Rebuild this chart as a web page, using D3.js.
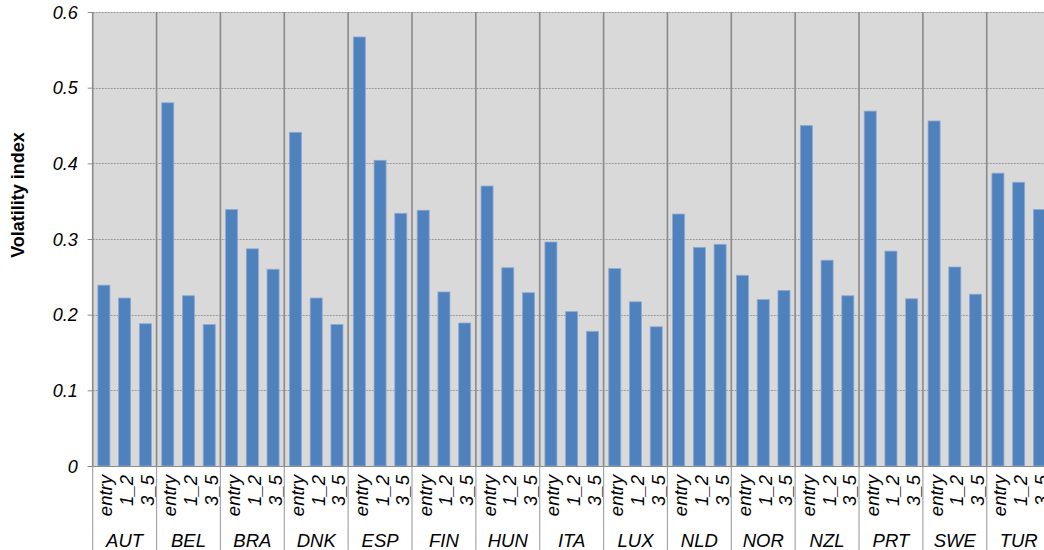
<!DOCTYPE html>
<html>
  <head>
    <meta charset="utf-8" />
    <title>Volatility index by country and cohort</title>
    <style>
      body {
        margin: 0;
        background: #fff;
      }
      text {
        font-family: "Liberation Sans", Arial, sans-serif;
        fill: #000;
      }
      .tick-label {
        font-style: italic;
        font-size: 18px;
      }
      .cohort-label,
      .country-label {
        font-style: italic;
        font-size: 18.5px;
      }
      .y-title {
        font-weight: bold;
        font-size: 18px;
      }
      .grid line {
        stroke: #9a9a9a;
        stroke-dasharray: 2 1;
      }
    </style>
  </head>
  <body>
    <svg id="chart"></svg>

    <script src="https://cdn.jsdelivr.net/npm/d3@7"></script>
    <script>
      const countries = ["AUT", "BEL", "BRA", "DNK", "ESP", "FIN", "HUN", "ITA", "LUX", "NLD", "NOR", "NZL", "PRT", "SWE", "TUR"];
      const cohorts = ["entry", "1_2", "3_5"];
      const entryValues = [0.239, 0.480, 0.339, 0.441, 0.567, 0.338, 0.370, 0.296, 0.261, 0.333, 0.252, 0.450, 0.469, 0.456, 0.387];
      const y12Values = [0.222, 0.225, 0.287, 0.222, 0.404, 0.230, 0.262, 0.204, 0.217, 0.289, 0.220, 0.272, 0.284, 0.263, 0.375];
      const y35Values = [0.188, 0.187, 0.260, 0.187, 0.334, 0.189, 0.229, 0.178, 0.184, 0.293, 0.232, 0.225, 0.221, 0.227, 0.339];
      const yTicks = [0, 0.1, 0.2, 0.3, 0.4, 0.5, 0.6];
      const yTitle = "Volatility index";

      const seriesValues = { entry: entryValues, "1_2": y12Values, "3_5": y35Values };

      const width = 1044;
      const height = 550;
      const plot = { left: 92.7, top: 12, bottom: 466, groupWidth: 63.86 };

      const svg = d3.select("#chart").attr("width", width).attr("height", height);

      const x0 = d3
        .scaleBand()
        .domain(countries)
        .range([plot.left, plot.left + plot.groupWidth * countries.length]);

      const x1 = d3
        .scaleBand()
        .domain(cohorts)
        .range([0, x0.bandwidth()])
        .paddingInner(0.42)
        .paddingOuter(0.25);

      const y = d3.scaleLinear().domain([0, 0.6]).range([plot.bottom, plot.top]);

      // grey plot background
      svg
        .append("rect")
        .attr("x", plot.left)
        .attr("y", plot.top)
        .attr("width", x0.range()[1] - plot.left)
        .attr("height", plot.bottom - plot.top)
        .attr("fill", "#d9d9d9");

      // dotted horizontal gridlines
      svg
        .append("g")
        .attr("class", "grid")
        .selectAll("line")
        .data(yTicks.filter((d) => d > 0))
        .join("line")
        .attr("x1", plot.left)
        .attr("x2", x0.range()[1])
        .attr("y1", (d) => Math.round(y(d)) + 0.5)
        .attr("y2", (d) => Math.round(y(d)) + 0.5);

      // y axis
      const yAxis = svg
        .append("g")
        .attr("transform", `translate(${plot.left},0)`)
        .call(d3.axisLeft(y).tickValues(yTicks).tickSize(5).tickPadding(10).tickFormat((d) => (d === 0 ? "0" : d3.format(".1f")(d))));
      yAxis.select(".domain").remove();
      yAxis.selectAll(".tick line").attr("stroke", "#8c8c8c");
      yAxis.selectAll(".tick text").attr("class", "tick-label").attr("dy", "0.34em");

      // bars
      const groups = svg
        .append("g")
        .selectAll("g")
        .data(countries)
        .join("g")
        .attr("transform", (c) => `translate(${x0(c)},0)`);

      groups
        .selectAll("rect")
        .data((c, i) => cohorts.map((k) => ({ key: k, value: seriesValues[k][i] })))
        .join("rect")
        .attr("x", (d) => x1(d.key))
        .attr("y", (d) => y(d.value))
        .attr("width", x1.bandwidth())
        .attr("height", (d) => plot.bottom - y(d.value))
        .attr("fill", "#4f81bd")
        .attr("stroke", "#8eaad3")
        .attr("stroke-width", 0.8);

      // group separators, darker inside the plot, lighter under it
      const seps = countries.map((c) => x0(c)).concat([x0.range()[1]]);
      svg
        .append("g")
        .selectAll("line")
        .data(seps)
        .join("line")
        .attr("x1", (d) => d)
        .attr("x2", (d) => d)
        .attr("y1", plot.top)
        .attr("y2", plot.bottom)
        .attr("stroke", "#8a8a8a")
        .attr("stroke-width", 1.6);

      svg
        .append("g")
        .selectAll("line")
        .data(seps)
        .join("line")
        .attr("x1", (d) => d)
        .attr("x2", (d) => d)
        .attr("y1", plot.bottom)
        .attr("y2", height)
        .attr("stroke", "#a6a6a6")
        .attr("stroke-width", 1.2);

      // x axis line
      svg
        .append("line")
        .attr("x1", plot.left - 5)
        .attr("x2", width)
        .attr("y1", plot.bottom + 0.5)
        .attr("y2", plot.bottom + 0.5)
        .attr("stroke", "#8c8c8c")
        .attr("stroke-width", 1.2);

      // rotated cohort labels
      groups
        .selectAll("text.cohort-label")
        .data(cohorts)
        .join("text")
        .attr("class", "cohort-label")
        .attr("text-anchor", "end")
        .attr("dominant-baseline", "central")
        .attr("transform", (k) => `translate(${x1(k) + x1.bandwidth() / 2 + 2},${plot.bottom + 9}) rotate(-90)`)
        .text((k) => k);

      // country labels
      groups
        .append("text")
        .attr("class", "country-label")
        .attr("x", x0.bandwidth() / 2)
        .attr("y", 547)
        .attr("text-anchor", "middle")
        .text((c) => c);

      // y title
      svg
        .append("text")
        .attr("class", "y-title")
        .attr("text-anchor", "middle")
        .attr("transform", "translate(24,195) rotate(-90)")
        .text(yTitle);
    </script>
  </body>
</html>
